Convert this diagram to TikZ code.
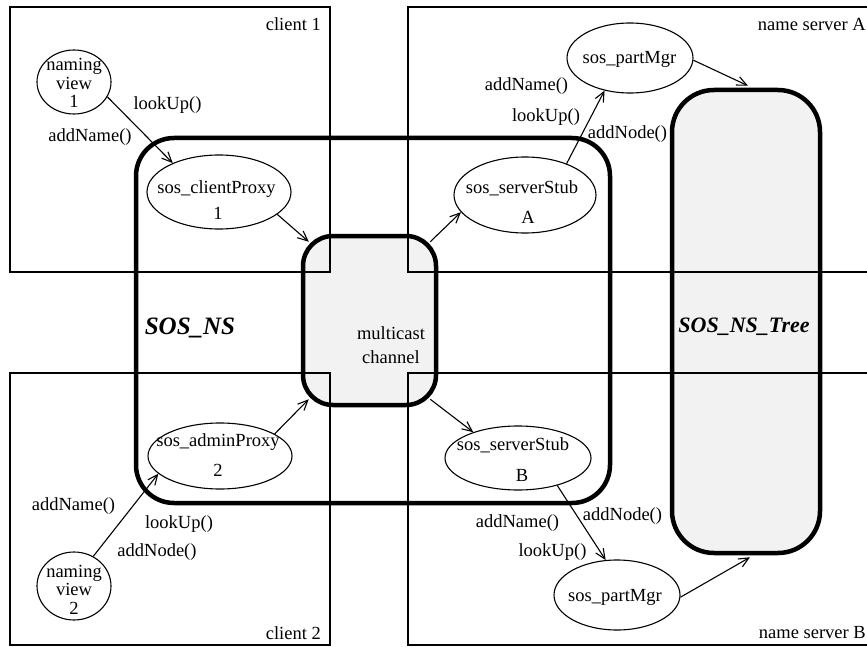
\documentclass[tikz,border=0pt]{standalone}
\usepackage{fontspec}
\setmainfont{Liberation Serif}
\usetikzlibrary{arrows.meta,shapes.geometric}
\begin{document}
\begin{tikzpicture}[x=1pt,y=-1pt,
  every node/.style={font=\fontsize{18.5}{18.5}\selectfont},
  lbl/.style={inner sep=0pt},
  box/.style={draw,line width=1.2pt},
  ell/.style={ellipse,draw,line width=1.1pt,inner sep=0pt,fill=white},
  arr/.style={line width=1.1pt,-{Straight Barb[length=10pt,width=9pt,line width=1.1pt]}},
  region/.style={rectangle,rounded corners=#1,line width=4.5pt,draw,inner sep=0pt},
  shade/.style={fill=black,fill opacity=0.05},
  big/.style={font=\fontsize{25}{25}\selectfont\bfseries\itshape,inner sep=0pt}
]
\clip (0,0) rectangle (867,647);
% host boxes
\draw[box] (10,7) rectangle (330,272);
\draw[box] (408,7) rectangle (890,272);
\draw[box] (10,373) rectangle (330,645);
\draw[box] (408,373) rectangle (890,645);
% regions
\node[region=38pt, minimum width=474pt, minimum height=365pt] (sosns) at (373,320.5) {};
\node[region=30pt, shade, minimum width=133pt, minimum height=169pt] (mc) at (369.5,320.5) {};
\node[region=42pt, shade, minimum width=148pt, minimum height=463pt] (tree) at (746,321.5) {};
% ellipses
\node[ell, minimum width=74pt, minimum height=64pt] (nv1) at (74,82) {};
\node[ell, minimum width=144pt, minimum height=74pt] (cp) at (219,192) {};
\node[ell, minimum width=142pt, minimum height=76pt] (ssA) at (525,195) {};
\node[ell, minimum width=126pt, minimum height=70pt] (pmA) at (630,58) {};
\node[ell, minimum width=144pt, minimum height=66pt] (ap) at (220,456) {};
\node[ell, minimum width=74pt, minimum height=68pt] (nv2) at (74,586) {};
\node[ell, minimum width=146pt, minimum height=64pt] (ssB) at (518,458) {};
\node[ell, minimum width=126pt, minimum height=70pt] (pmB) at (617,595) {};
% ellipse texts
\node[lbl, align=center] (nv1t) at (74,83) {naming\\view\\1};
\node[lbl] (cpt1) at (216.5,189) {sos\_clientProxy};
\node[lbl] (cpt2) at (218,213) {1};
\node[lbl] (ssAt1) at (522,188) {sos\_serverStub};
\node[lbl] (ssAt2) at (528,217) {A};
\node[lbl] (pmAt) at (629.5,59) {sos\_partMgr};
\node[lbl] (apt1) at (218,442) {sos\_adminProxy};
\node[lbl] (apt2) at (218,470) {2};
\node[lbl, align=center] (nv2t) at (74,589.5) {naming\\view\\2};
\node[lbl] (ssBt1) at (513,445) {sos\_serverStub};
\node[lbl] (ssBt2) at (522,475) {B};
\node[lbl] (pmBt) at (615,597) {sos\_partMgr};
% connectors
\draw[arr] (nv1.-24) -- (cp.148);
\draw[arr] (cp.-21) -- ([shift={(8,8)}]mc.north west);
\draw[arr] ([shift={(-8,8)}]mc.north east) -- (ssA.-165);
\draw[arr] (ssA.37) -- (pmA.232);
\draw[arr] (pmA.-2) -- ([shift={(2,-2)}]tree.north);
\draw[arr] (ap.22) -- ([shift={(8,-8)}]mc.south west);
\draw[arr] (nv2.57) -- (ap.196);
\draw[arr] ([shift={(-8,-8)}]mc.south east) -- (ssB.150);
\draw[arr] (ssB.-35) -- (pmB.108);
\draw[arr] (pmB.-2) -- ([shift={(4,2)}]tree.south);
% operation labels
\node[lbl] (c1look) at (167.5,105) {lookUp()};
\node[lbl] (c1add) at (90,137) {addName()};
\node[lbl] (aadd) at (526.5,86) {addName()};
\node[lbl] (alook) at (546,117) {lookUp()};
\node[lbl] (anode) at (627.5,134) {addNode()};
\node[lbl] (c2add) at (73.5,506) {addName()};
\node[lbl] (c2look) at (179,524) {lookUp()};
\node[lbl] (c2node) at (157,552) {addNode()};
\node[lbl] (badd) at (517.5,523) {addName()};
\node[lbl] (blook) at (552.5,552) {lookUp()};
\node[lbl] (bnode) at (622.5,516) {addNode()};
% host labels
\node[lbl, anchor=east] (hc1) at (321,24) {client 1};
\node[lbl, anchor=east] (hnA) at (866,24) {name server A};
\node[lbl, anchor=east] (hc2) at (321,633) {client 2};
\node[lbl, anchor=east] (hnB) at (866,633) {name server B};
% region labels
\node[lbl, align=center] (mct) at (391,345) {multicast\\[5.5pt]channel};
\node[big] (sosnst) at (190,328) {SOS\_NS};
\node[big, font=\fontsize{22}{22}\selectfont\bfseries\itshape] (treet) at (744,327) {SOS\_NS\_Tree};
\end{tikzpicture}
\end{document}
